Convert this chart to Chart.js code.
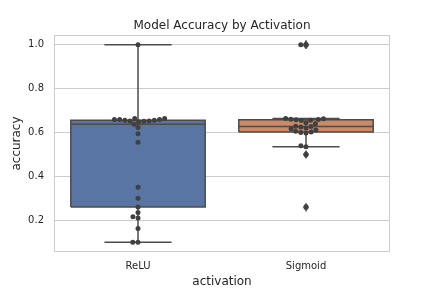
<!DOCTYPE html>
<html><head><meta charset="utf-8">
<script src="https://cdn.jsdelivr.net/npm/chart.js@4"></script>
<style>html,body{margin:0;padding:0;background:#fff}canvas{display:block}</style>
</head><body>
<canvas id="c" width="432" height="288"></canvas>
<script>
const categories = ['ReLU', 'Sigmoid'];
const reluAccuracy = [1.0, 0.660, 0.659, 0.656, 0.653, 0.664, 0.649, 0.651, 0.653, 0.656, 0.659, 0.664, 0.638,
  0.623, 0.594, 0.556, 0.35, 0.30, 0.26, 0.235, 0.216, 0.21, 0.162, 0.10, 0.10];
const sigmoidAccuracy = [1.0, 1.0, 0.664, 0.663, 0.661, 0.659, 0.658, 0.656, 0.655, 0.645, 0.640, 0.629, 0.627,
  0.625, 0.621, 0.617, 0.612, 0.606, 0.602, 0.600, 0.598, 0.54, 0.535, 0.50, 0.26];
const yTicks = [0.2, 0.4, 0.6, 0.8, 1.0];
const boxColors = ['#5975a4', '#cc8963'];
const lineColor = '#4c4c4c';
const dotColor = '#404040';
const textColor = '#262626';
const FONT = 'DejaVu Sans';
const dotR = 2.5;

const groups = [reluAccuracy, sigmoidAccuracy];

function pct(sorted, p) {
  const pos = p * (sorted.length - 1), lo = Math.floor(pos), f = pos - lo;
  return lo + 1 < sorted.length ? sorted[lo] + f * (sorted[lo + 1] - sorted[lo]) : sorted[lo];
}
function boxStats(vals) {
  const s = [...vals].sort((a, b) => a - b);
  const q1 = pct(s, 0.25), med = pct(s, 0.5), q3 = pct(s, 0.75), iqr = q3 - q1;
  const inside = s.filter(v => v >= q1 - 1.5 * iqr && v <= q3 + 1.5 * iqr);
  return { q1, med, q3, lo: inside[0], hi: inside[inside.length - 1],
    fliers: s.filter(v => v < q1 - 1.5 * iqr || v > q3 + 1.5 * iqr) };
}
const stats = groups.map(boxStats);

function thinDiamond(w, h, color) {
  const c = document.createElement('canvas'); c.width = w; c.height = h;
  const g = c.getContext('2d'); g.fillStyle = color;
  g.beginPath(); g.moveTo(w / 2, 0); g.lineTo(w, h / 2); g.lineTo(w / 2, h); g.lineTo(0, h / 2); g.closePath(); g.fill();
  return c;
}
const diamond = thinDiamond(6, 9, lineColor);

function seg(points, order, extra) {
  return Object.assign({ type: 'scatter', xAxisID: 'x2', yAxisID: 'y', showLine: true, data: points,
    borderColor: lineColor, borderWidth: 1.5, pointRadius: 0, fill: false, order }, extra || {});
}

const datasets = [];
stats.forEach((s, i) => {
  datasets.push(seg([{ x: i - 0.4, y: s.q1 }, { x: i + 0.4, y: s.q1 }, { x: i + 0.4, y: s.q3 },
    { x: i - 0.4, y: s.q3 }, { x: i - 0.4, y: s.q1 }], 10, { fill: 'shape', backgroundColor: boxColors[i], borderJoinStyle: 'miter' }));
  datasets.push(seg([{ x: i, y: s.lo }, { x: i, y: s.q1 }], 8));
  datasets.push(seg([{ x: i, y: s.q3 }, { x: i, y: s.hi }], 8));
  datasets.push(seg([{ x: i - 0.2, y: s.lo }, { x: i + 0.2, y: s.lo }], 8));
  datasets.push(seg([{ x: i - 0.2, y: s.hi }, { x: i + 0.2, y: s.hi }], 8));
  datasets.push(seg([{ x: i - 0.4, y: s.med }, { x: i + 0.4, y: s.med }], 6));
  datasets.push({ type: 'scatter', xAxisID: 'x2', yAxisID: 'y', data: s.fliers.map(v => ({ x: i, y: v })),
    pointStyle: diamond, order: 4 });
});
const swarmIdx = [];
groups.forEach((vals, i) => {
  swarmIdx.push(datasets.length);
  datasets.push({ type: 'scatter', xAxisID: 'x2', yAxisID: 'y', data: vals.map(v => ({ x: i, y: v })),
    pointRadius: dotR, backgroundColor: dotColor, borderWidth: 0, order: 1 });
});

const framePlugin = {
  id: 'frame',
  beforeDatasetsDraw(chart) {
    const { ctx, chartArea: a } = chart;
    ctx.save(); ctx.strokeStyle = '#cccccc'; ctx.lineWidth = 1;
    const l = Math.round(a.left) + 0.5, t = Math.round(a.top) + 0.5, r = Math.round(a.right) - 0.5, b = Math.round(a.bottom) - 0.5;
    ctx.strokeRect(l, t, r - l, b - t);
    ctx.restore();
  }
};

const chart = new Chart(document.getElementById('c'), {
  type: 'scatter',
  data: { labels: categories, datasets },
  plugins: [framePlugin],
  options: {
    responsive: false, animation: false, devicePixelRatio: 1,
    layout: { padding: { left: 12, right: 0, top: 0, bottom: 0 } },
    plugins: {
      legend: { display: false }, tooltip: { enabled: false },
      title: { display: true, text: 'Model Accuracy by Activation', color: textColor,
        font: { family: FONT, size: 12, weight: 'normal' }, padding: { top: 19, bottom: 1.6 } }
    },
    scales: {
      x: { type: 'category', labels: categories, offset: true,
        grid: { display: false, drawTicks: false }, border: { display: false },
        ticks: { color: textColor, font: { family: FONT, size: 10 }, padding: 8 },
        title: { display: true, text: 'activation', color: textColor, font: { family: FONT, size: 12 }, padding: { top: 0, bottom: -1.5 } },
        afterFit: s => { s.height = 36; } },
      x2: { type: 'linear', display: false, offset: false, min: -0.5, max: 1.5 },
      y: { type: 'linear', min: 0.055, max: 1.045,
        afterBuildTicks: s => { s.ticks = yTicks.map(v => ({ value: v })); },
        grid: { color: '#cccccc', lineWidth: 1, drawTicks: false }, border: { display: false },
        ticks: { color: textColor, font: { family: FONT, size: 10 }, padding: 10, callback: v => v.toFixed(1) },
        title: { display: true, text: 'accuracy', color: textColor, font: { family: FONT, size: 12 }, padding: { top: -2.5, bottom: 0 } },
        afterFit: s => { s.width = 42; } },
      yR: { type: 'linear', position: 'right', min: 0.055, max: 1.045,
        grid: { display: false, drawTicks: false }, border: { display: false },
        ticks: { display: false },
        afterFit: s => { s.width = 42; } }
    }
  }
});

function beeswarm(ys, r) {
  const order = ys.map((y, i) => i).sort((a, b) => ys[b] - ys[a]);
  const placed = [], dx = new Array(ys.length);
  for (const i of order) {
    const y = ys[i];
    const nb = placed.filter(p => Math.abs(p.y - y) < 2 * r);
    const left = [], right = [];
    for (const p of nb) {
      const dy = y - p.y;
      const d = Math.sqrt(Math.max(4 * r * r - dy * dy, 0)) * 1.05;
      left.push(p.x - d); right.push(p.x + d);
    }
    const cands = [0, ...left, ...right].map((c, k) => ({ c, k }))
      .sort((a, b) => Math.abs(a.c) - Math.abs(b.c) || a.k - b.k);
    let chosen = 0;
    for (const { c } of cands) {
      if (nb.every(p => (p.x - c) ** 2 + (p.y - y) ** 2 >= 4 * r * r - 1e-6)) { chosen = c; break; }
    }
    placed.push({ x: chosen, y }); dx[i] = chosen;
  }
  return dx;
}

const sx = chart.scales.x2, sy = chart.scales.y;
groups.forEach((vals, i) => {
  const py = vals.map(v => sy.getPixelForValue(v));
  const off = beeswarm(py, dotR);
  const cx = sx.getPixelForValue(i);
  chart.data.datasets[swarmIdx[i]].data = vals.map((v, k) => ({ x: sx.getValueForPixel(cx + off[k]), y: v }));
});
chart.update('none');
</script>
</body></html>
